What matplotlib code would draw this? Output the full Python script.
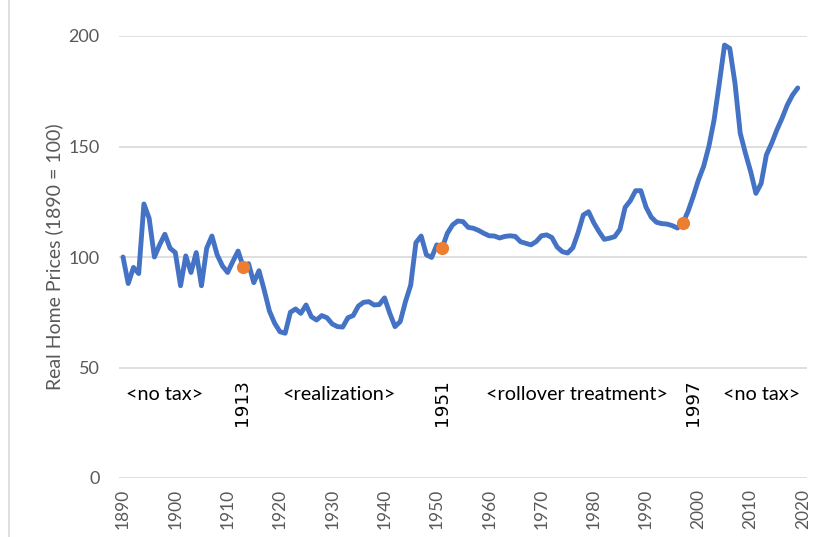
import matplotlib
matplotlib.use("Agg")
import matplotlib.pyplot as plt
from matplotlib.lines import Line2D

# ---- data ----
years = list(range(1890, 2020))
real_home_prices = [
    100, 88, 95.3, 92.5, 124, 117.5, 100, 105.5, 110.3, 104,          # 1890s
    102, 87, 100.5, 93, 102, 87, 104, 109.5, 101, 96,                  # 1900s
    93, 98, 102.7, 95.5, 97, 88.4, 93.8, 85, 75.5, 70,                 # 1910s
    66.2, 65.5, 75, 76.5, 74.5, 78.3, 73, 71.5, 73.5, 72.5,            # 1920s
    69.7, 68.5, 68.3, 72.5, 73.5, 77.8, 79.5, 79.8, 78.3, 78.5,        # 1930s
    81.5, 74.5, 68.5, 70.8, 79.8, 87.3, 106.5, 109.5, 101, 99.8,       # 1940s
    105.5, 104, 110.7, 114.5, 116.3, 116, 113.4, 113, 112, 110.7,      # 1950s
    109.6, 109.5, 108.6, 109.3, 109.6, 109.3, 106.9, 106.2, 105.5, 107, # 1960s
    109.6, 110, 108.8, 104.5, 102.4, 101.8, 104.2, 111, 119, 120.5,    # 1970s
    115.5, 111.5, 108, 108.5, 109.2, 112.5, 122.5, 125.5, 130, 130,    # 1980s
    122.5, 118, 115.7, 115.1, 114.9, 114.2, 113.1, 115.2, 120.5, 127.3, # 1990s
    134.8, 141, 150, 162, 178.6, 195.9, 194.4, 178.6, 156, 146.9,      # 2000s
    138.6, 128.8, 133.3, 146.2, 151.4, 157.5, 162.8, 168.8, 173.3, 176.5, # 2010s
]
event_years = [1913, 1951, 1997]
event_labels = ["1913", "1951", "1997"]
period_labels = ["<no tax>", "<realization>", "<rollover treatment>", "<no tax>"]
y_ticks = [0, 50, 100, 150, 200]
x_ticks = list(range(1890, 2021, 10))
y_label = "Real Home Prices (1890 = 100)"

# ---- figure ----
fig = plt.figure(figsize=(8.18, 5.37), dpi=100)
ax = fig.add_axes([119 / 818, 1 - 478 / 537, (807 - 119) / 818, (478 - 36) / 537])

LINE = "#4472C4"
DOT = "#ED7D31"
GRAY = "#595959"
GRID = "#D9D9D9"
FONT = "Lato"

ax.set_xlim(1889.235, 2020.765)
ax.set_ylim(0, 200)
ax.set_yticks(y_ticks)
ax.set_xticks(x_ticks)
ax.yaxis.grid(True, color=GRID, linewidth=1.2)
ax.set_axisbelow(True)
for s in ax.spines.values():
    s.set_visible(False)
ax.tick_params(length=0)
ax.tick_params(axis="y", pad=14, labelsize=13, labelcolor=GRAY)
ax.tick_params(axis="x", pad=8, labelsize=12.5, labelcolor=GRAY, labelrotation=90)
for lab in ax.get_xticklabels() + ax.get_yticklabels():
    lab.set_fontfamily(FONT)

ax.plot(years, real_home_prices, color=LINE, linewidth=3.5,
        solid_joinstyle="round", solid_capstyle="round", zorder=3)

event_vals = [real_home_prices[years.index(y)] for y in event_years]
ax.plot(event_years, event_vals, linestyle="none", marker="o",
        markersize=9.5, color=DOT, markeredgewidth=0, zorder=4)

ax.set_ylabel(y_label, fontsize=14, color=GRAY, fontfamily=FONT, labelpad=4)

# period annotations
period_x = [1898.0, 1931.2, 1976.7, 2012.0]
for x, t in zip(period_x, period_labels):
    ax.text(x, 37.6, t, ha="center", va="center", fontsize=14.3,
            fontfamily=FONT, color="black")
event_label_x = [1912.7, 1950.9, 1999.0]
for x, t in zip(event_label_x, event_labels):
    ax.text(x, 34.2, t, ha="center", va="center", fontsize=13.3, rotation=90,
            fontfamily="DejaVu Sans", color="black")

# thin frame line at left edge of image
fig.add_artist(Line2D([9 / 818, 9 / 818], [0, 1], color=GRID, linewidth=1.2,
                      transform=fig.transFigure))

fig.savefig("out.png", dpi=100)
